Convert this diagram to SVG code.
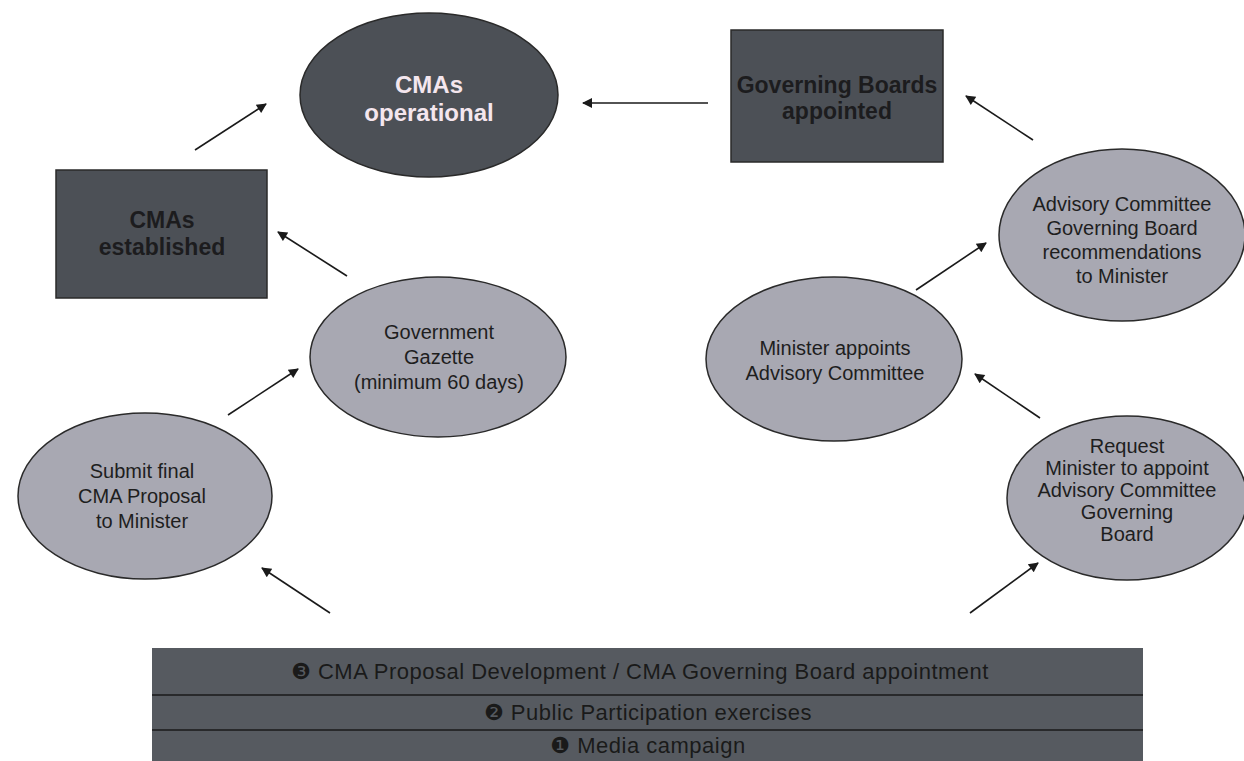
<svg xmlns="http://www.w3.org/2000/svg" width="1244" height="761" viewBox="0 0 1244 761">
<style>
.light{fill:#a8a8b2;stroke:#2a2a2a;stroke-width:1.5}
.dark{fill:#4c5056;stroke:#2a2a2a;stroke-width:1.5}
.t{font-family:"Liberation Sans",Arial,sans-serif;font-size:20px;fill:#1e1e1e;text-anchor:middle}
.tb{font-family:"Liberation Sans",Arial,sans-serif;font-size:23px;font-weight:bold;fill:#1c1c1e;text-anchor:middle}
.tw{font-family:"Liberation Sans",Arial,sans-serif;font-size:24px;font-weight:bold;fill:#f4e6ee;text-anchor:middle}
.bar{font-family:"Liberation Sans",Arial,sans-serif;font-size:22px;letter-spacing:0.5px;fill:#1a1a1a;text-anchor:middle}
.bul{font-family:"DejaVu Sans",sans-serif}
.c{stroke:#1a1a1a;stroke-width:1.6;fill:none;marker-end:url(#ah)}
</style>
<defs>
<marker id="ah" viewBox="0 0 10 10" refX="9" refY="5" markerWidth="13" markerHeight="10" markerUnits="userSpaceOnUse" orient="auto">
<path d="M0,0 L10,5 L0,10 z" fill="#1a1a1a"/>
</marker>
</defs>
<rect width="1244" height="761" fill="#ffffff"/>
<g id="connectors">
<line class="c" x1="708" y1="103" x2="583" y2="103"/>
<line class="c" x1="195" y1="150" x2="266" y2="104"/>
<line class="c" x1="1033" y1="140" x2="966" y2="96"/>
<line class="c" x1="347" y1="276" x2="278" y2="232"/>
<line class="c" x1="228" y1="415" x2="298" y2="369"/>
<line class="c" x1="330" y1="613" x2="262" y2="568"/>
<line class="c" x1="916" y1="290" x2="986" y2="243"/>
<line class="c" x1="1040" y1="418" x2="975" y2="374"/>
<line class="c" x1="970" y1="613" x2="1038" y2="563"/>
</g>
<g id="cmas-operational">
<ellipse class="dark" cx="429" cy="95" rx="129" ry="82"/>
<text class="tw" x="429" y="93">CMAs</text>
<text class="tw" x="429" y="121">operational</text>
</g>
<g id="governing-boards-appointed">
<rect class="dark" x="731" y="30" width="212" height="132"/>
<text class="tb" x="837" y="93">Governing Boards</text>
<text class="tb" x="837" y="119">appointed</text>
</g>
<g id="cmas-established">
<rect class="dark" x="56" y="170" width="211" height="128"/>
<text class="tb" x="162" y="228">CMAs</text>
<text class="tb" x="162" y="255">established</text>
</g>
<g id="government-gazette">
<ellipse class="light" cx="438" cy="357" rx="128" ry="80"/>
<text class="t" x="439" y="339">Government</text>
<text class="t" x="439" y="364">Gazette</text>
<text class="t" x="439" y="389">(minimum 60 days)</text>
</g>
<g id="submit-final">
<ellipse class="light" cx="145" cy="496" rx="127" ry="83"/>
<text class="t" x="142" y="478">Submit final</text>
<text class="t" x="142" y="503">CMA Proposal</text>
<text class="t" x="142" y="528">to Minister</text>
</g>
<g id="minister-appoints">
<ellipse class="light" cx="834" cy="359" rx="128" ry="82"/>
<text class="t" x="835" y="355">Minister appoints</text>
<text class="t" x="835" y="380">Advisory Committee</text>
</g>
<g id="advisory-recommendations">
<ellipse class="light" cx="1122" cy="235" rx="123" ry="86"/>
<text class="t" x="1122" y="211">Advisory Committee</text>
<text class="t" x="1122" y="235">Governing Board</text>
<text class="t" x="1122" y="259">recommendations</text>
<text class="t" x="1122" y="283">to Minister</text>
</g>
<g id="request-minister">
<ellipse class="light" cx="1127" cy="498" rx="120" ry="82"/>
<text class="t" x="1127" y="453">Request</text>
<text class="t" x="1127" y="475">Minister to appoint</text>
<text class="t" x="1127" y="497">Advisory Committee</text>
<text class="t" x="1127" y="519">Governing</text>
<text class="t" x="1127" y="541">Board</text>
</g>
<g id="phases-bar">
<rect x="152" y="648" width="991" height="113" fill="#565a60"/>
<line x1="152" y1="695" x2="1143" y2="695" stroke="#1a1a1a" stroke-width="1.5"/>
<line x1="152" y1="730" x2="1143" y2="730" stroke="#1a1a1a" stroke-width="1.5"/>
<text class="bar" x="640" y="679"><tspan class="bul">❸</tspan> CMA Proposal Development  /  CMA Governing Board appointment</text>
<text class="bar" x="648" y="720"><tspan class="bul">❷</tspan> Public Participation exercises</text>
<text class="bar" x="648" y="753"><tspan class="bul">❶</tspan> Media campaign</text>
</g>
</svg>
